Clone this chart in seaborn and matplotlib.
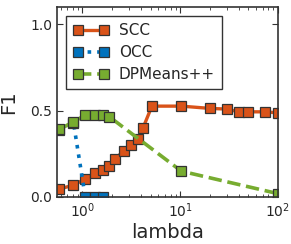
import matplotlib
matplotlib.use("Agg")
import matplotlib.pyplot as plt
import seaborn as sns
import numpy as np
import pandas as pd

# data
scc_lambda = [0.58, 0.81, 1.07, 1.35, 1.61, 1.89, 2.13, 2.65, 3.16, 3.69, 4.15, 5.14,
              10.3, 20.0, 29.8, 39.8, 48.9, 73.6, 100.0]
scc_f1 = [0.045, 0.069, 0.104, 0.137, 0.156, 0.179, 0.218, 0.266, 0.300, 0.333, 0.397, 0.526,
          0.526, 0.513, 0.509, 0.493, 0.493, 0.493, 0.487]
occ_lambda = [0.58, 0.81, 1.07, 1.35, 1.61]
occ_f1 = [0.39, 0.43, 0.0, 0.0, 0.0]
dpm_lambda = [0.58, 0.81, 1.07, 1.35, 1.61, 1.89, 10.3, 100.0]
dpm_f1 = [0.391, 0.435, 0.474, 0.474, 0.474, 0.464, 0.149, 0.019]
y_ticks = [0.0, 0.5, 1.0]

sns.set_style("ticks")
plt.rcParams["font.family"] = ["DejaVu Sans"]
plt.rcParams["xtick.direction"] = "in"
plt.rcParams["ytick.direction"] = "in"
plt.rcParams["xtick.top"] = True
plt.rcParams["ytick.right"] = True

fig = plt.figure(figsize=(2.91, 2.44), dpi=100)
ax = fig.add_axes([0.196, 0.193, 0.759, 0.778])

common = dict(marker="s", markersize=6.5, markeredgecolor="#333333", markeredgewidth=0.9,
              ax=ax, clip_on=True)
sns.lineplot(x=scc_lambda, y=scc_f1, color="#D95319", linestyle="-", linewidth=2.4,
             label="SCC", **common)
sns.lineplot(x=occ_lambda, y=occ_f1, color="#0072BD", linestyle=":", linewidth=2.6,
             label="OCC", **common)
sns.lineplot(x=dpm_lambda, y=dpm_f1, color="#77AC30", linestyle="--", linewidth=2.6,
             label="DPMeans++", **common)

ax.set_xscale("log")
ax.set_xlim(0.55, 100)
ax.set_ylim(0, 1.1)
ax.set_yticks(y_ticks)
ax.set_yticklabels(["0.0", "0.5", "1.0"])
ax.tick_params(axis="both", which="major", labelsize=10, length=4, width=0.8, color="#333333")
ax.tick_params(axis="both", which="minor", length=2, width=0.6, color="#333333")
ax.set_xlabel("lambda", fontsize=14, labelpad=2)
ax.set_ylabel("F1", fontsize=14, labelpad=9)
for s in ax.spines.values():
    s.set_color("#333333")
    s.set_linewidth(1.2)

leg = ax.legend(loc="upper left", numpoints=2, fontsize=11, handlelength=2.3,
                frameon=True, fancybox=False, borderaxespad=0.6, labelspacing=0.45,
                handletextpad=0.7, borderpad=0.45)
leg.get_frame().set_edgecolor("black")
leg.get_frame().set_linewidth(1.0)

fig.savefig("out.png", dpi=100)
